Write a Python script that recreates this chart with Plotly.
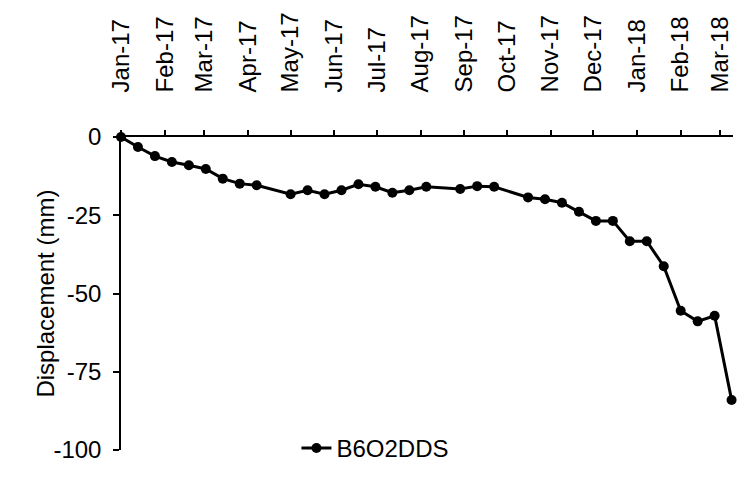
import plotly.graph_objects as go

# Acquisition dates (12-day revisit) and cumulative displacement in mm
dates = [
    "2017-01-01", "2017-01-13", "2017-01-25", "2017-02-06", "2017-02-18",
    "2017-03-02", "2017-03-14", "2017-03-26", "2017-04-07", "2017-05-01",
    "2017-05-13", "2017-05-25", "2017-06-06", "2017-06-18", "2017-06-30",
    "2017-07-12", "2017-07-24", "2017-08-05", "2017-08-29", "2017-09-10",
    "2017-09-22", "2017-10-16", "2017-10-28", "2017-11-09", "2017-11-21",
    "2017-12-03", "2017-12-15", "2017-12-27", "2018-01-08", "2018-01-20",
    "2018-02-01", "2018-02-13", "2018-02-25", "2018-03-09",
]
displacement = [
    0.0, -3.2, -6.1, -8.0, -9.0,
    -10.2, -13.3, -14.9, -15.4, -18.3,
    -17.0, -18.3, -17.0, -15.1, -15.9,
    -17.8, -17.0, -15.9, -16.6, -15.7,
    -15.9, -19.3, -19.9, -21.0, -23.9,
    -26.8, -26.8, -33.3, -33.3, -41.3,
    -55.5, -58.9, -57.1, -84.0,
]
series_name = "B6O2DDS"
y_title = "Displacement (mm)"

y_tick_values = [0, -25, -50, -75, -100]
y_tick_labels = ["0", "-25", "-50", "-75", "-100"]

FONT = "Liberation Sans, Arial, sans-serif"
FSIZE = 24

fig = go.Figure()
fig.add_trace(go.Scatter(
    x=dates,
    y=displacement,
    mode="lines+markers",
    name=series_name,
    line=dict(color="black", width=3),
    marker=dict(color="black", size=10),
    cliponaxis=False,
))

# y-axis title placed as a rotated label close to the tick labels
fig.add_annotation(
    text=y_title,
    xref="paper", yref="paper",
    x=-0.124, y=0.5,
    xanchor="center", yanchor="middle",
    textangle=-90,
    showarrow=False,
    font=dict(family=FONT, size=FSIZE, color="black"),
)

fig.update_layout(
    width=743,
    height=477,
    margin=dict(l=121, r=10, t=137, b=27, autoexpand=False),
    paper_bgcolor="white",
    plot_bgcolor="white",
    font=dict(family=FONT, size=FSIZE, color="black"),
    showlegend=True,
    legend=dict(
        xref="container", yref="container",
        x=0.399, y=0.06, xanchor="left", yanchor="middle",
        orientation="h",
        bgcolor="rgba(0,0,0,0)",
        font=dict(family=FONT, size=FSIZE, color="black"),
        itemwidth=30,
    ),
    xaxis=dict(
        type="date",
        side="top",
        range=["2017-01-01", "2018-03-10"],
        dtick="M1",
        tick0="2017-01-01",
        tickformat="%b-%y",
        tickangle=-90,
        ticks="outside",
        ticklen=5,
        tickwidth=1.5,
        tickcolor="black",
        ticklabelstandoff=33,
        showline=True,
        linecolor="black",
        linewidth=1.5,
        showgrid=False,
        zeroline=False,
    ),
    yaxis=dict(
        range=[-100, 0],
        tickvals=y_tick_values,
        ticktext=y_tick_labels,
        ticks="outside",
        ticklen=6,
        tickwidth=1.5,
        tickcolor="black",
        ticklabelstandoff=7,
        showline=True,
        linecolor="black",
        linewidth=1.5,
        showgrid=False,
        zeroline=False,
    ),
)

fig.write_html("out.html")
